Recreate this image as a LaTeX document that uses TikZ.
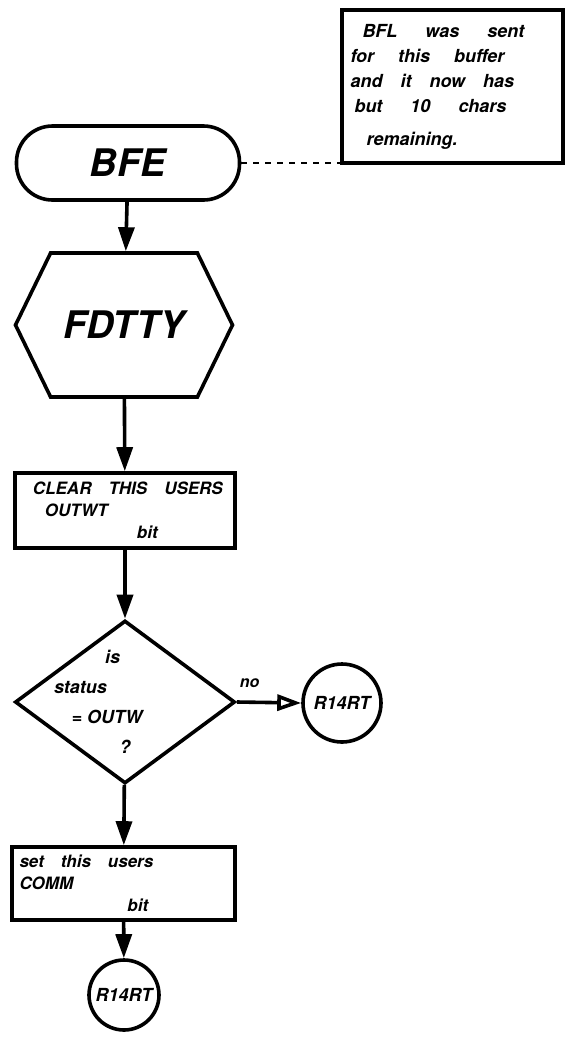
\documentclass[tikz,border=0pt]{standalone}
\usepackage{fontspec}
\setmainfont{TeX Gyre Heros}
\usetikzlibrary{positioning, arrows.meta, shapes.geometric, shapes.symbols}

\begin{document}
\begin{tikzpicture}[x=0.5pt, y=-0.5pt, line width=1.8pt, >={Triangle[length=12pt,width=8pt]},
    font=\bfseries\itshape,
    terminal/.style={draw, rounded corners=18pt, minimum width=111.5pt, minimum height=37pt, inner sep=0pt},
    hexbox/.style={draw, shape=signal, signal to=east and west, signal pointer angle=128,
        minimum width=108.5pt, minimum height=72pt, inner sep=0pt},
    procbox/.style={draw, rectangle, inner sep=0pt, align=left, font=\bfseries\itshape\fontsize{8.5}{11}\selectfont},
    decision/.style={draw, diamond, inner sep=-16pt, minimum width=110pt, minimum height=81.5pt,
        align=center, font=\bfseries\itshape\fontsize{9}{15}\selectfont},
    connector/.style={draw, circle, inner sep=0pt, font=\bfseries\itshape\fontsize{9}{10}\selectfont},
    flow/.style={->}]

    % Frame
    \useasboundingbox (0,0) rectangle (564,1057);

    % Note
    \node[draw, rectangle, inner sep=0pt, minimum width=110.5pt, minimum height=76.5pt,
        text width=102pt, align=left, font=\bfseries\itshape\fontsize{9}{12.5}\selectfont]
        (note) at (452.5,86.5)
        {\hspace*{6pt}BFL\hspace{14pt}was\hspace{14pt}sent\\ for\hspace{12pt}this\hspace{12pt}buffer\\
         and\hspace{9pt}it\hspace{9pt}now\hspace{9pt}has\\
         \hspace*{2pt}but\hspace{14pt}10\hspace{14pt}chars\\[4pt] \hspace*{8pt}remaining.};

    % Flow shapes
    \node[terminal, font=\bfseries\itshape\fontsize{19}{22}\selectfont] (bfe) at (128,163) {BFE};
    \node[hexbox, font=\bfseries\itshape\fontsize{19}{22}\selectfont] (fdtty) at (124,325) {FDTTY};
    \node[procbox, minimum width=110pt, minimum height=37.5pt, text width=100pt] (clear) at (125,510.5)
        {\hspace*{4pt}CLEAR\quad THIS\quad USERS\\ \hspace*{10pt}OUTWT\\ \hspace*{56pt}bit};
    \node[decision] (status) at (125,702) {\hspace*{-10pt}is\\ \hspace*{-42pt}status\\ \hspace*{-18pt}= OUTW\\ ?};
    \node[connector, minimum size=39pt] (r14) at (342,703) {R14RT};
    \node[procbox, minimum width=111.5pt, minimum height=36.5pt, text width=104pt] (setbit) at (123.5,883.5)
        {set\quad this\quad users\\ COMM\\ \hspace*{54pt}bit};
    \node[connector, minimum size=35pt] (rmrt) at (124,995) {R14RT};

    % Connectors
    \draw[dashed, line width=1pt] (bfe.east) -- (bfe.east -| note.west);
    \draw[flow] (bfe) -- (fdtty);
    \draw[flow] (fdtty) -- (clear);
    \draw[flow] (clear) -- (status);
    \draw[-{Triangle[open,length=12pt,width=8pt]}] (status.east) -- (r14.west)
        node[pos=0.2, above=3pt, font=\bfseries\itshape\fontsize{8}{9}\selectfont] {no};
    \draw[flow] (status) -- (setbit);
    \draw[flow] (setbit) -- (rmrt);

\end{tikzpicture}
\end{document}
